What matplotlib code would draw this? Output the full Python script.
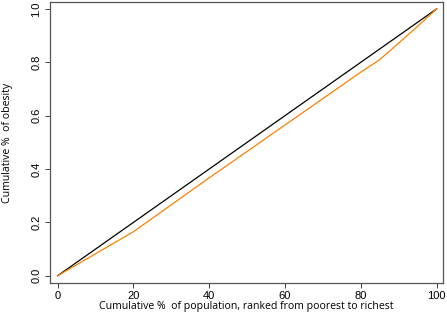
import matplotlib
matplotlib.use("Agg")
import matplotlib.pyplot as plt

# Data
pop_pct = [0, 20, 40, 60, 80, 85, 90, 95, 100]
equality = [0.0, 0.2, 0.4, 0.6, 0.8, 0.85, 0.9, 0.95, 1.0]
obesity_cum = [0.0, 0.165, 0.367, 0.565, 0.763, 0.81, 0.872, 0.935, 1.0]
x_ticks = [0, 20, 40, 60, 80, 100]
y_ticks = [0.0, 0.2, 0.4, 0.6, 0.8, 1.0]
y_tick_labels = ["0.0", "0.2", "0.4", "0.6", "0.8", "1.0"]
x_label = "Cumulative %  of population, ranked from poorest to richest"
y_label = "Cumulative %  of obesity"

fig = plt.figure(figsize=(4.47, 3.16), dpi=100)
ax = fig.add_axes([50/447, 1 - 283/316, (443-50)/447, (283-2)/316])

ax.plot(pop_pct, equality, color="black", lw=0.9)
ax.plot(pop_pct, obesity_cum, color="#ff7f00", lw=0.9)

ax.set_xlim(-2.0, 101.7)
ax.set_ylim(-0.027, 1.026)

ax.set_xticks(x_ticks)
ax.set_xticklabels([str(t) for t in x_ticks], fontfamily="Liberation Sans", fontsize=8.0)
ax.set_yticks(y_ticks)
ax.set_yticklabels(y_tick_labels, fontfamily="Liberation Sans", fontsize=8.0,
                   rotation=90, va="center")
ax.tick_params(direction="out", length=3.6, width=0.7, color="#444444", pad=2.5)

for s in ax.spines.values():
    s.set_color("#555555")
    s.set_linewidth(0.9)

fig.text(246.5/447, 1 - 307/316, x_label, ha="center", va="center",
         fontfamily="Open Sans", fontsize=7.6)
fig.text(8/447, 1 - 142.5/316, y_label, ha="center", va="center", rotation=90,
         fontfamily="Open Sans", fontsize=7.6)

fig.savefig("out.png", dpi=100)
